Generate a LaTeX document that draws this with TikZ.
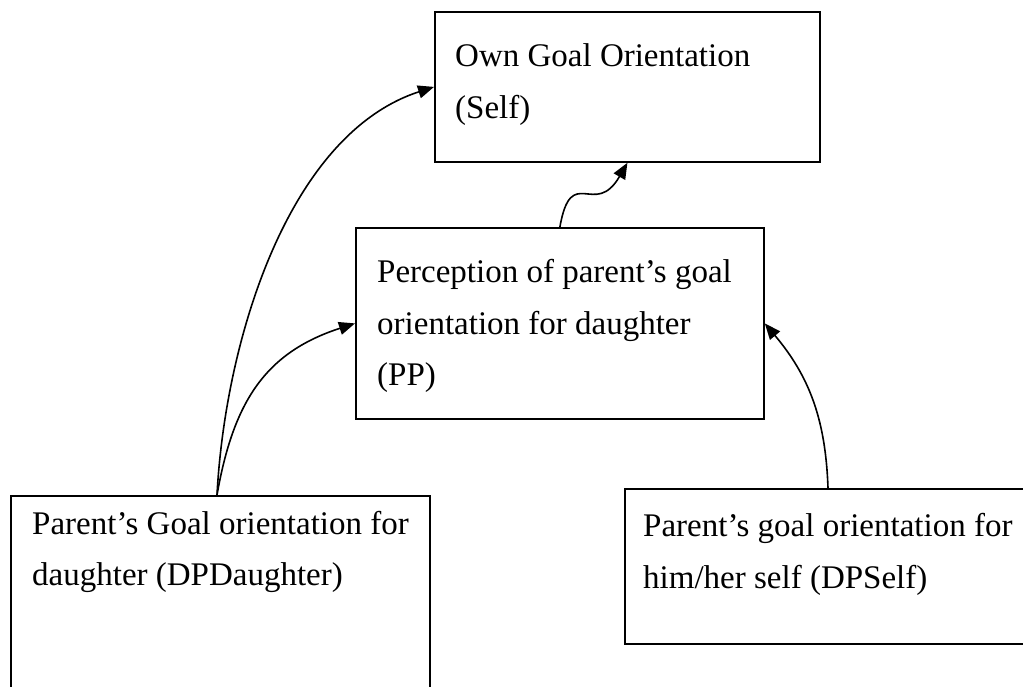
\documentclass[tikz,border=0pt]{standalone}
\usepackage{fontspec}
\setmainfont{Liberation Serif}
\usetikzlibrary{positioning,arrows.meta}
\tikzset{
  box/.style={draw, line width=1.8pt, inner sep=0pt, anchor=north west},
  boxtext/.style={align=left, inner sep=0pt, font=\fontsize{33}{51.5}\selectfont},
  link/.style={-{Triangle[length=16pt,width=13pt]}, line width=1.6pt},
}
\begin{document}
\begin{tikzpicture}[x=1pt,y=1pt]
  \useasboundingbox (0,0) rectangle (1023,686);
  \clip (0,0) rectangle (1023,686);
  % boxes
  \node[box, minimum width=385pt, minimum height=150pt] (self) at (434,675) {};
  \node[box, minimum width=408pt, minimum height=191pt] (pp) at (355,459) {};
  \node[box, minimum width=419pt, minimum height=230pt] (dpd) at (10,191) {};
  \node[box, minimum width=420pt, minimum height=155pt] (dps) at (624,198) {};
  % texts
  \node[boxtext, below right=19.6pt and 21pt of self.north west] (selftxt)
    {\strut Own Goal Orientation\\(Self)};
  \node[boxtext, below right=19.6pt and 22pt of pp.north west] (pptxt)
    {\strut Perception of parent’s goal\\orientation for daughter\\(PP)};
  \node[boxtext, below right=3pt and 22pt of dpd.north west] (dpdtxt)
    {\strut Parent’s Goal orientation for\\daughter (DPDaughter)};
  \node[boxtext, below right=12.6pt and 19pt of dps.north west] (dpstxt)
    {\strut Parent’s goal orientation for\\him/her self (DPSelf)};
  % links
  \draw[link] ([xshift=207pt]dpd.north west) to[out=87, in=198, looseness=0.85] (self.west);
  \draw[link] ([xshift=207pt]dpd.north west) to[out=80, in=198, looseness=1.1] (pp.west);
  \draw[link] (pp.north) to[out=80, in=240, looseness=1.8] (self.south);
  \draw[link] ([xshift=204pt]dps.north west) to[out=92, in=-50] (pp.east);
\end{tikzpicture}
\end{document}
